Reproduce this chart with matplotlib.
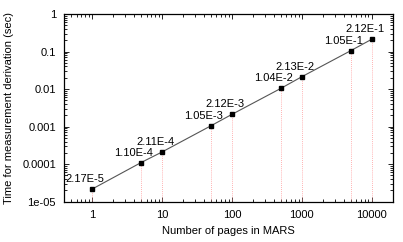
import matplotlib
matplotlib.use("Agg")
import matplotlib.pyplot as plt
from matplotlib.ticker import LogLocator, FixedLocator, FixedFormatter, NullFormatter

# pages in MARS vs. time for measurement derivation
pages = [1, 5, 10, 50, 100, 500, 1000, 5000, 10000]
times = [2.17e-5, 1.10e-4, 2.11e-4, 1.05e-3, 2.12e-3, 1.04e-2, 2.13e-2, 1.05e-1, 2.12e-1]
labels = ["2.17E-5", "1.10E-4", "2.11E-4", "1.05E-3", "2.12E-3",
          "1.04E-2", "2.13E-2", "1.05E-1", "2.12E-1"]

xticks = [1, 10, 100, 1000, 10000]
xticklabels = ["1", "10", "100", "1000", "10000"]
yticks = [1e-5, 1e-4, 1e-3, 1e-2, 1e-1, 1]
yticklabels = ["1e-05", "0.0001", "0.001", "0.01", "0.1", "1"]

plt.rcParams['font.family'] = ['Liberation Sans', 'DejaVu Sans']
plt.rcParams['font.size'] = 8

fig = plt.figure(figsize=(4.03, 2.42), dpi=100)
ax = fig.add_axes([0.1596, 0.1665, 0.9744 - 0.1596, 0.9421 - 0.1665])

ax.set_xscale('log')
ax.set_yscale('log')
ax.set_xlim(0.4, 20000)
ax.set_ylim(1e-5, 1)

# impulses from bottom to each point
ax.vlines(pages, 1e-5, times, colors='#ff9999', linestyles=(0, (1, 1.5)), linewidth=0.6)
ax.plot(pages, times, color='#555555', linewidth=0.8)
ax.plot(pages, times, linestyle='none', marker='s', markersize=3.2, color='black')

for x, y, s in zip(pages, times, labels):
    ax.annotate(s, (x, y), xytext=(-5, 7.2), textcoords='offset points',
                ha='center', va='center', fontsize=8)

ax.xaxis.set_major_locator(FixedLocator(xticks))
ax.xaxis.set_major_formatter(FixedFormatter(xticklabels))
ax.xaxis.set_minor_locator(LogLocator(base=10, subs=range(2, 10), numticks=20))
ax.xaxis.set_minor_formatter(NullFormatter())
ax.yaxis.set_major_locator(FixedLocator(yticks))
ax.yaxis.set_major_formatter(FixedFormatter(yticklabels))
ax.yaxis.set_minor_locator(LogLocator(base=10, subs=range(2, 10), numticks=20))
ax.yaxis.set_minor_formatter(NullFormatter())

ax.tick_params(which='both', direction='in', top=True, right=True, width=0.6)
ax.tick_params(which='major', length=3.5, pad=6)
ax.tick_params(which='minor', length=2)
for sp in ax.spines.values():
    sp.set_linewidth(0.9)

ax.set_xlabel('Number of pages in MARS', labelpad=4)
ax.set_ylabel('Time for measurement derivation (sec)', labelpad=6)

fig.savefig('out.png', dpi=100)
